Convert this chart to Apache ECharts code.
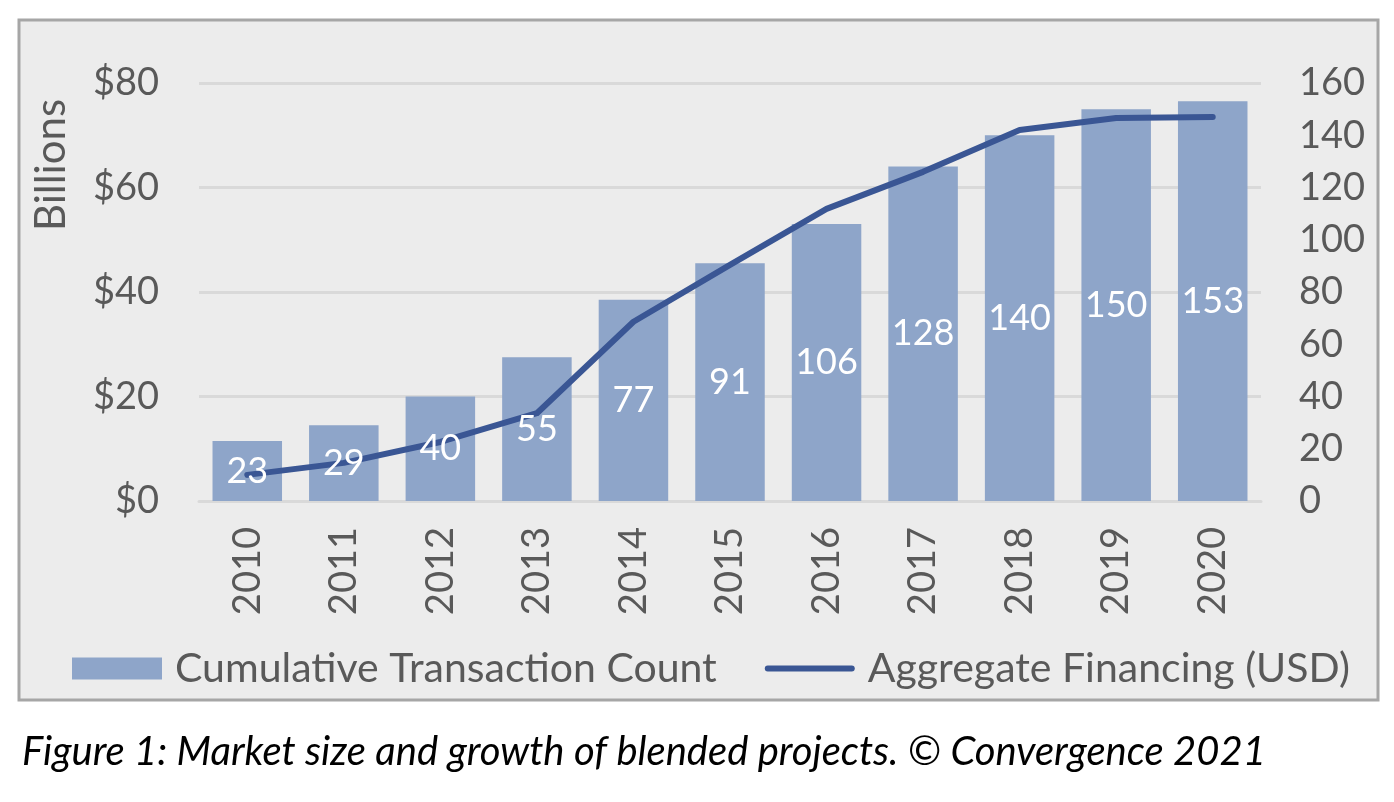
<!DOCTYPE html>
<html>
<head>
<meta charset="utf-8">
<script src="https://cdn.jsdelivr.net/npm/echarts@6/dist/echarts.min.js"></script>
<style>
html,body{margin:0;padding:0;background:#ffffff;}
#chart{width:1394px;height:802px;}
</style>
</head>
<body>
<div id="chart"></div>
<script>
const years = ['2010','2011','2012','2013','2014','2015','2016','2017','2018','2019','2020'];
const transactionCount = [23, 29, 40, 55, 77, 91, 106, 128, 140, 150, 153];
const aggregateFinancing = [5.0, 7.3, 11.3, 16.8, 34.3, 45.2, 55.9, 63.0, 71.0, 73.3, 73.5];
const leftTicks = [0, 20, 40, 60, 80];
const rightTicks = [0, 20, 40, 60, 80, 100, 120, 140, 160];

const FONT = 'Lato';
const GREY = '#595959';
const chart = echarts.init(document.getElementById('chart'), null, {renderer: 'canvas'});
chart.setOption({
  animation: false,
  backgroundColor: '#ffffff',
  textStyle: {fontFamily: FONT},
  graphic: [
    {type: 'rect', z: -10, shape: {x: 19, y: 20, width: 1359, height: 680},
     style: {fill: '#ececec', stroke: '#a6a6a6', lineWidth: 3}},
    {type: 'text', x: 51, y: 165, rotation: Math.PI / 2,
     style: {text: 'Billions', font: '42px Lato', fill: GREY, textAlign: 'center', textVerticalAlign: 'middle'}},
    {type: 'text', x: 22, y: 752,
     style: {text: 'Figure 1: Market size and growth of blended projects. \u00A9 Convergence 2021',
             font: 'italic 40px Lato', fill: '#000000', textAlign: 'left', textVerticalAlign: 'middle'}}
  ],
  grid: {left: 199, right: 133, top: 83, bottom: 301, containLabel: false},
  legend: {
    left: 72, top: 648, padding: 0,
    itemWidth: 90, itemHeight: 22, itemGap: 48,
    textStyle: {fontFamily: FONT, fontSize: 41, color: GREY, padding: [0, 0, 0, 8]},
    data: [
      {name: 'Cumulative Transaction Count', icon: 'rect'},
      {name: 'Aggregate Financing (USD)', icon: 'path://M3,0 L87,0 A3,3 0 0 1 87,6 L3,6 A3,3 0 0 1 3,0 Z'}
    ]
  },
  xAxis: {
    type: 'category',
    data: years,
    axisTick: {show: false},
    axisLine: {lineStyle: {color: '#d9d9d9', width: 3}},
    axisLabel: {rotate: 90, margin: 26, fontFamily: FONT, fontSize: 38, color: GREY}
  },
  yAxis: [
    {
      type: 'value', min: 0, max: 80, interval: 20, position: 'left',
      axisLine: {show: false}, axisTick: {show: false},
      splitLine: {lineStyle: {color: '#d9d9d9', width: 3}},
      axisLabel: {margin: 40, fontFamily: FONT, fontSize: 38, color: GREY,
        formatter: v => leftTicks.includes(v) ? '$' + v : ''}
    },
    {
      type: 'value', min: 0, max: 160, interval: 20, position: 'right',
      axisLine: {show: false}, axisTick: {show: false}, splitLine: {show: false},
      axisLabel: {margin: 38, fontFamily: FONT, fontSize: 38, color: GREY,
        formatter: v => rightTicks.includes(v) ? String(v) : ''}
    }
  ],
  series: [
    {
      name: 'Cumulative Transaction Count',
      type: 'bar',
      yAxisIndex: 1,
      data: transactionCount,
      barCategoryGap: '28%',
      itemStyle: {color: '#8ea5c9'},
      z: 2
    },
    {
      name: 'Aggregate Financing (USD)',
      type: 'line',
      yAxisIndex: 0,
      data: aggregateFinancing,
      symbol: 'none',
      lineStyle: {color: '#3a5694', width: 6, cap: 'round', join: 'round'},
      itemStyle: {color: '#3a5694'},
      z: 3
    },
    {
      name: 'countLabels',
      type: 'bar',
      yAxisIndex: 1,
      data: transactionCount,
      barGap: '-100%',
      barCategoryGap: '28%',
      itemStyle: {color: 'rgba(0,0,0,0)'},
      silent: true,
      z: 4,
      label: {show: true, position: 'inside', color: '#ffffff', fontFamily: FONT, fontSize: 36}
    }
  ]
});
</script>
</body>
</html>
